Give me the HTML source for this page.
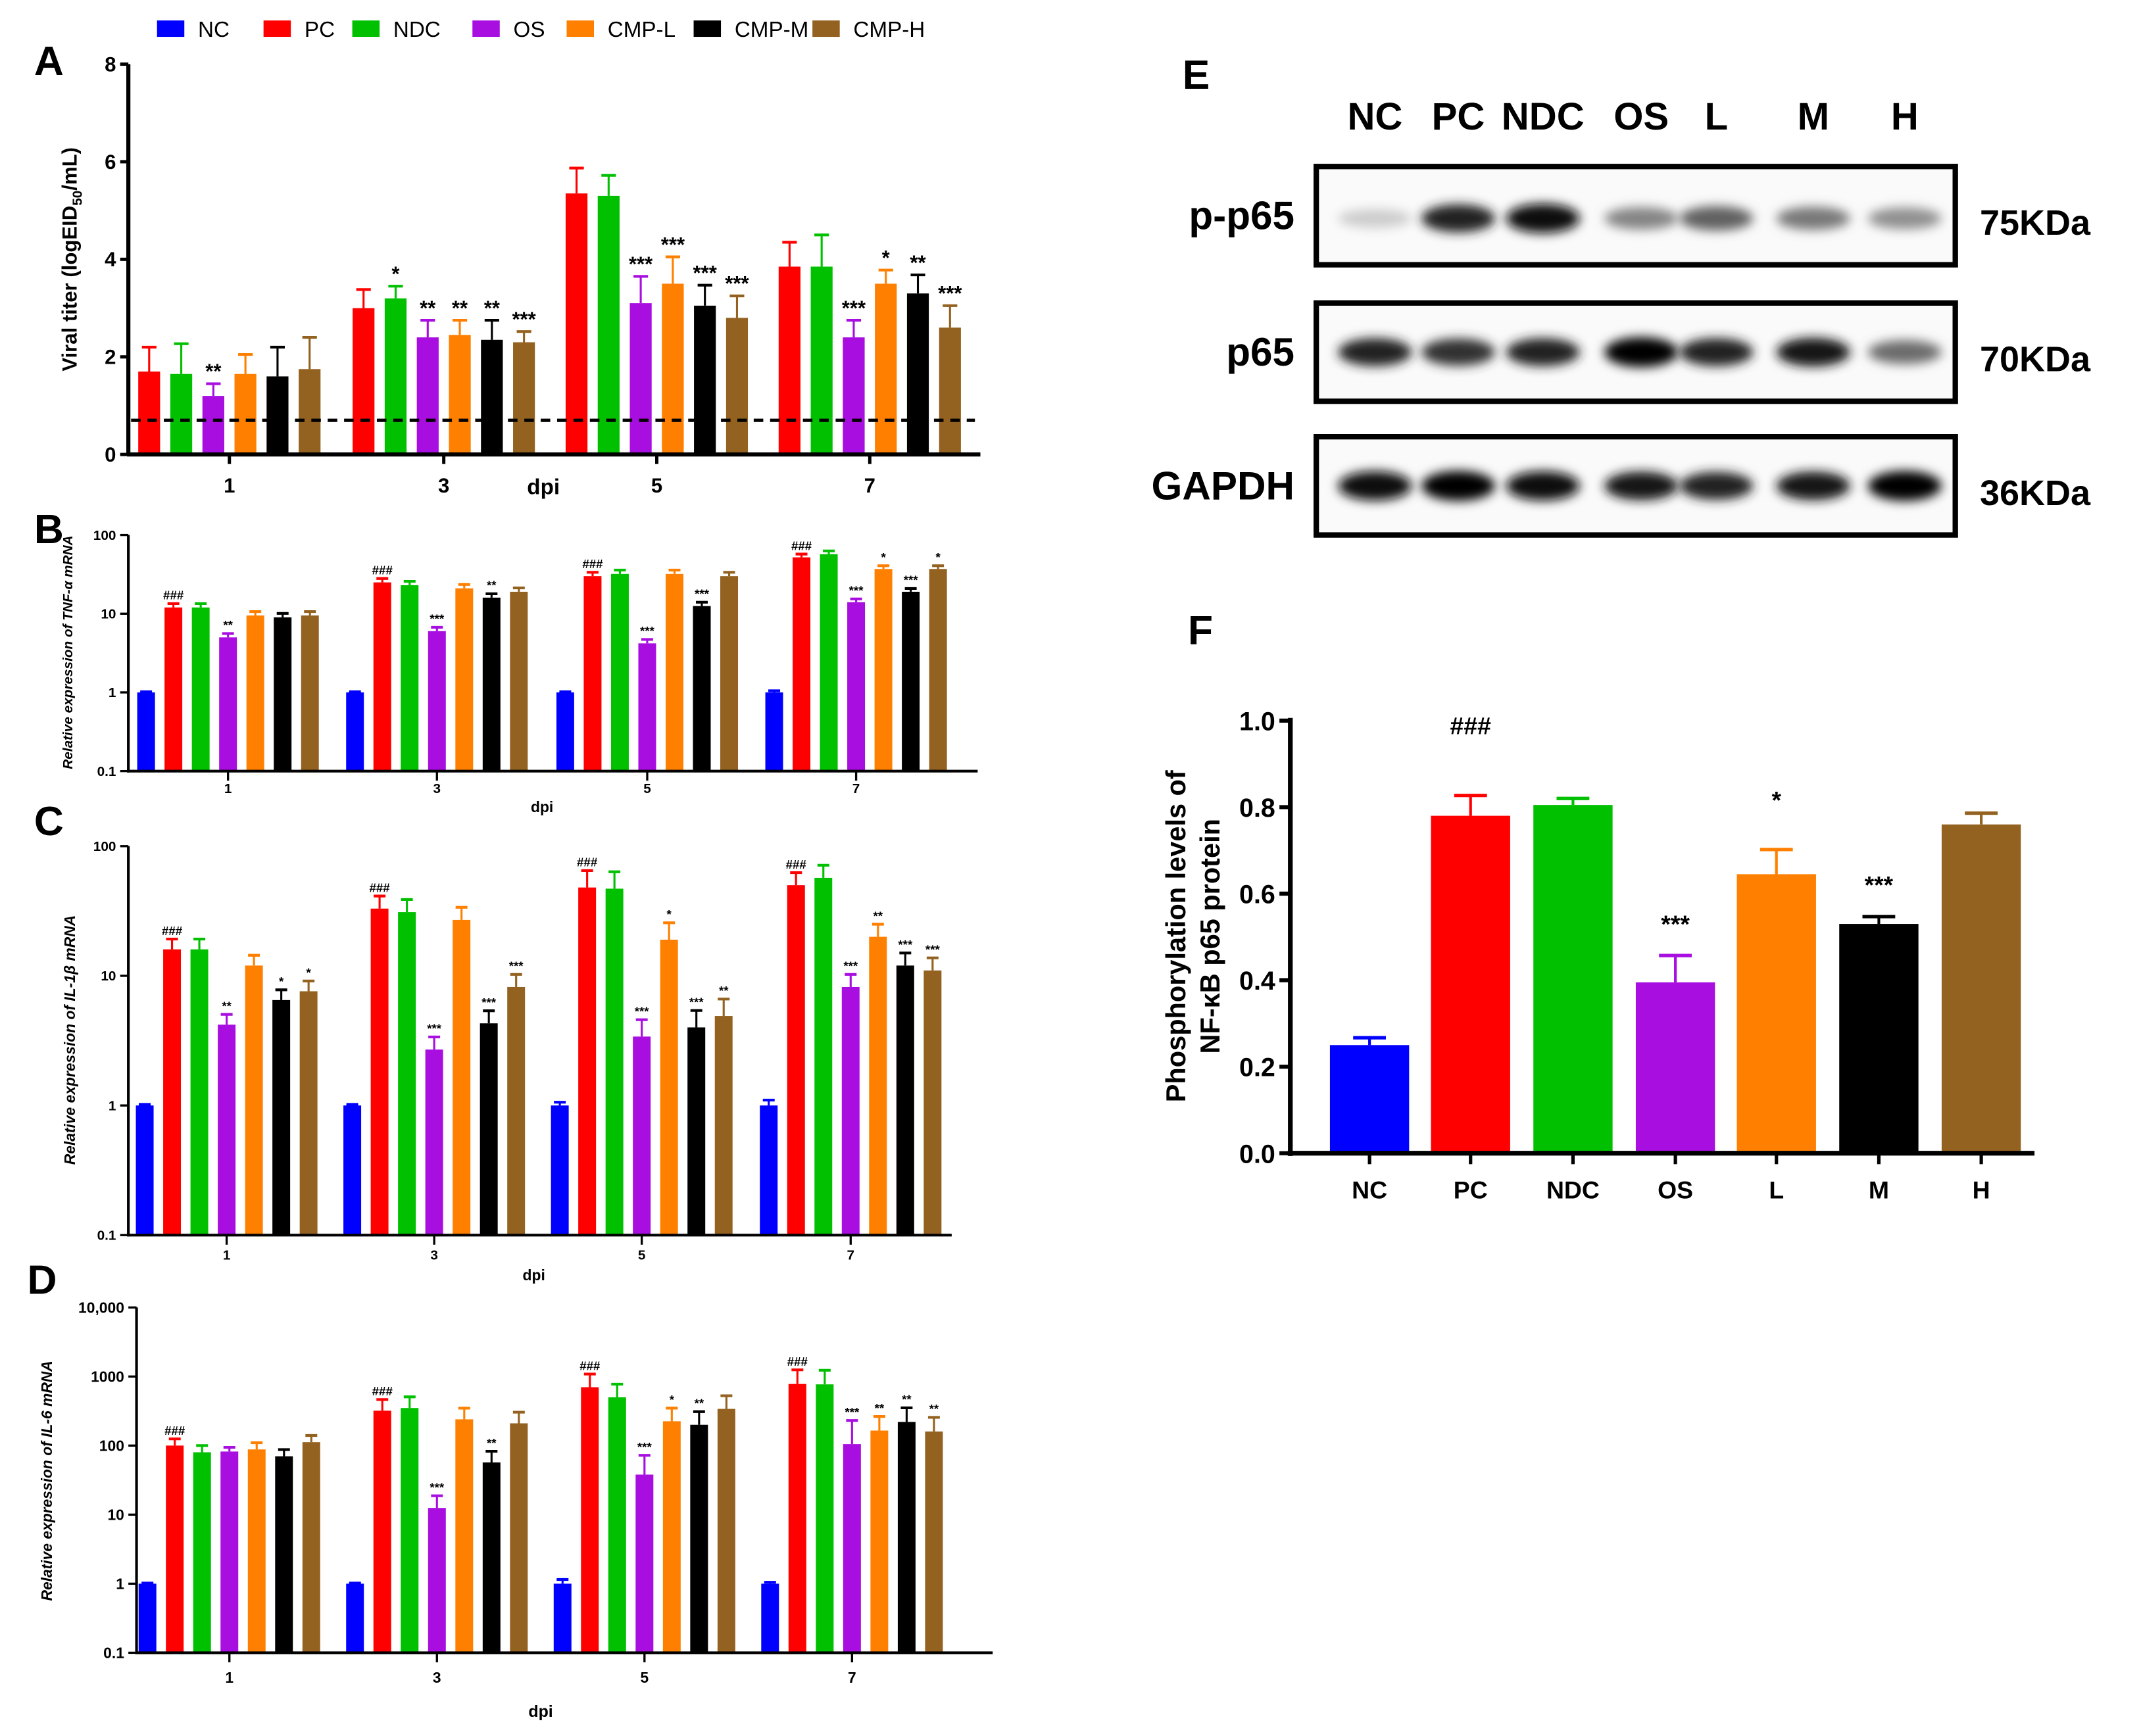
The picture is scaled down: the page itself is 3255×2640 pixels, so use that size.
<!DOCTYPE html>
<html><head><meta charset="utf-8">
<style>
html,body{margin:0;padding:0;background:#fff;}
svg{display:block;font-family:"Liberation Sans",Arial,sans-serif;}
</style></head>
<body>
<svg id="fig" width="3255" height="2640" viewBox="0 0 1568 1272" preserveAspectRatio="none" xmlns="http://www.w3.org/2000/svg">
<defs>
<filter id="blur" x="-50%" y="-100%" width="200%" height="300%"><feGaussianBlur stdDeviation="4"/></filter>
</defs>
</svg>
<script>
// ---------- data ----------
const groups = ["NC","PC","NDC","OS","CMP-L","CMP-M","CMP-H"];
const colors = ["#0000ff","#ff0000","#00c000","#a80ee0","#ff8000","#000000","#946220"];
const dpiLabels = ["1","3","5","7"];

// Panel A: viral titer (NC absent)
const aPC=[1.7,3.0,5.35,3.85], aNDC=[1.65,3.2,5.3,3.85], aOS=[1.2,2.4,3.1,2.4], aL=[1.65,2.45,3.5,3.5], aM=[1.6,2.35,3.05,3.3], aH=[1.75,2.3,2.8,2.6];
const aErrPC=[0.5,0.38,0.52,0.5], aErrNDC=[0.62,0.25,0.42,0.65], aErrOS=[0.25,0.35,0.55,0.35], aErrL=[0.4,0.3,0.55,0.28], aErrM=[0.6,0.4,0.42,0.38], aErrH=[0.65,0.22,0.45,0.45];
const aSigNDC=["","*","",""], aSigOS=["**","**","***","***"], aSigL=["","**","***","*"], aSigM=["","**","***","**"], aSigH=["","***","***","***"];
const aTicks=[0,2,4,6,8];
const detectionLimit=0.7;

// Panel B: TNF-a
const bNC=[1,1,1,1], bPC=[12,25,30,52], bNDC=[12,23,32,57], bOS=[5,6,4.2,14], bL=[9.5,21,32,37], bM=[9,16,12.5,19], bH=[9.5,19,30,37];
const bErrF=[1.12,1.12,1.12,1.1];
const bSigPC=["###","###","###","###"], bSigOS=["**","***","***","***"], bSigL=["","","","*"], bSigM=["","**","***","***"], bSigH=["","","","*"];
const bTicks=[0.1,1,10,100];

// Panel C: IL-1b
const cNC=[1,1,1,1], cPC=[16,33,48,50], cNDC=[16,31,47,57], cOS=[4.2,2.7,3.4,8.2], cL=[12,27,19,20], cM=[6.5,4.3,4,12], cH=[7.6,8.2,4.9,11];
const cErrF=[1.2,1.25,1.35,1.25];
const cSigPC=["###","###","###","###"], cSigOS=["**","***","***","***"], cSigL=["","","*","**"], cSigM=["*","***","***","***"], cSigH=["*","***","**","***"];
const cTicks=[0.1,1,10,100];

// Panel D: IL-6
const dNC=[1,1,1,1], dPC=[100,320,700,780], dNDC=[80,350,500,770], dOS=[82,12.5,38,105], dL=[88,240,225,165], dM=[70,57,200,220], dH=[112,210,340,160];
const dErrF=[1.25,1.45,1.55,1.6];
const dSigPC=["###","###","###","###"], dSigOS=["","***","***","***"], dSigL=["","","*","**"], dSigM=["","**","**","**"], dSigH=["","","","**"];
const dTicks=[0.1,1,10,100,1000,10000];
const dTickLabels=["0.1","1","10","100","1000","10,000"];

// Panel F
const fLabels=["NC","PC","NDC","OS","L","M","H"];
const fVals=[0.25,0.78,0.805,0.395,0.645,0.53,0.76];
const fErr=[0.017,0.047,0.015,0.062,0.057,0.017,0.026];
const fSig=["","###","","***","*","***",""];
const fTicks=[0,0.2,0.4,0.6,0.8,1.0];

// Panel E blot intensities
const blotRows=["p-p65","p65","GAPDH"];
const blotKDa=["75KDa","70KDa","36KDa"];
const blotPP65=[0.15,0.85,0.95,0.45,0.6,0.5,0.4];
const blotP65=[0.85,0.8,0.85,1.0,0.85,0.9,0.55];
const blotGAPDH=[0.95,1.0,0.95,0.9,0.85,0.9,1.0];

// ---------- helpers ----------
const svg=document.getElementById('fig');
const NS='http://www.w3.org/2000/svg';
function el(tag,attrs,parent){const e=document.createElementNS(NS,tag);for(const k in attrs)e.setAttribute(k,attrs[k]);(parent||svg).appendChild(e);return e;}
function txt(s,attrs,parent){const e=el('text',attrs,parent);e.textContent=s;return e;}

// legend
const legX=[115,193,258,346,415,508,595];
groups.forEach((g,i)=>{
  const gg=el('g',{});
  
  
  el('rect',{x:legX[i],y:15,width:20,height:12,fill:colors[i]},gg);
  txt(g,{x:legX[i]+30,y:27,'font-size':16,fill:'#000'},gg);
});

function panelLetter(s,x,y){const t=txt(s,{x:x,y:y,'font-size':30,'font-weight':'bold'});}

// generic grouped bar chart
function grouped(cfg){
  const g=el('g',{});
  
  
  const yS=cfg.log?(v=>cfg.yBot-(Math.log10(v)-Math.log10(cfg.ticks[0]))/(Math.log10(cfg.ticks[cfg.ticks.length-1])-Math.log10(cfg.ticks[0]))*(cfg.yBot-cfg.yTop))
                 :(v=>cfg.yBot-(v-cfg.ticks[0])/(cfg.ticks[cfg.ticks.length-1]-cfg.ticks[0])*(cfg.yBot-cfg.yTop));
  const xS=(gi,si)=>cfg.groupX[gi]+(si-cfg.off)*cfg.step;
  cfg.series.forEach((s,si)=>{
    if(!s)return;
    s.vals.forEach((v,gi)=>{
      const cx=xS(gi,si), y=yS(v), w=cfg.bw;
      const b=el('rect',{x:cx-w/2,y:y,width:w,height:cfg.yBot-y,fill:colors[si]},g);
      
      
      let top;
      if(s.err){top=yS(v+s.err[gi]);}else{top=yS(v*s.errF[gi]);}
      el('line',{x1:cx,x2:cx,y1:y,y2:top,stroke:colors[si],'stroke-width':1.5},g);
      el('line',{x1:cx-w/3,x2:cx+w/3,y1:top,y2:top,stroke:colors[si],'stroke-width':2},g);
      if(s.sig&&s.sig[gi]){txt(s.sig[gi],{x:cx,y:top-cfg.sigGap,'text-anchor':'middle','font-size':cfg.sigSize,'font-weight':'bold'},g);}
    });
  });
  // axes
  el('line',{x1:cfg.x0,x2:cfg.x0,y1:cfg.yTop,y2:cfg.yBot+1,stroke:'#000','stroke-width':cfg.aw},g);
  el('line',{x1:cfg.x0-1,x2:cfg.x1,y1:cfg.yBot,y2:cfg.yBot,stroke:'#000','stroke-width':cfg.aw},g);
  cfg.ticks.forEach((t,i)=>{
    const y=yS(t);
    el('line',{x1:cfg.x0-6,x2:cfg.x0,y1:y,y2:y,stroke:'#000','stroke-width':cfg.aw*0.8},g);
    txt(cfg.tickLabels?cfg.tickLabels[i]:String(t),{x:cfg.x0-9,y:y+cfg.tf*0.35,'text-anchor':'end','font-size':cfg.tf,'font-weight':'bold'},g);
  });
  cfg.groupX.forEach((x,i)=>{
    el('line',{x1:x,x2:x,y1:cfg.yBot,y2:cfg.yBot+7,stroke:'#000','stroke-width':cfg.aw*0.8},g);
    txt(dpiLabels[i],{x:x,y:cfg.yBot+cfg.xl,'text-anchor':'middle','font-size':cfg.tf,'font-weight':'bold'},g);
  });
  txt('dpi',{x:cfg.dpiX,y:cfg.dpiY,'text-anchor':'middle','font-size':cfg.tf+1,'font-weight':'bold'},g);
  return {g,yS};
}

// Panel A
panelLetter('A',25,55);
const A=grouped({name:'panel-a-viral-titer',x0:94,x1:718,yTop:47,yBot:333,ticks:aTicks,log:false,groupX:[168,325,481,637],off:3.5,step:23.5,bw:16,aw:3,tf:15,xl:28,dpiX:398,dpiY:362,sigGap:4,sigSize:15,
 series:[null,{vals:aPC,err:aErrPC},{vals:aNDC,err:aErrNDC,sig:aSigNDC},{vals:aOS,err:aErrOS,sig:aSigOS},{vals:aL,err:aErrL,sig:aSigL},{vals:aM,err:aErrM,sig:aSigM},{vals:aH,err:aErrH,sig:aSigH}]});
const dl=el('line',{x1:96,x2:714,y1:A.yS(detectionLimit),y2:A.yS(detectionLimit),stroke:'#000','stroke-width':2.5,'stroke-dasharray':'7,5'});


const ya=txt('',{transform:'translate(56,190) rotate(-90)','text-anchor':'middle','font-size':15,'font-weight':'bold'});
ya.innerHTML='Viral titer (logEID<tspan font-size="10" dy="4">50</tspan><tspan dy="-4">/mL)</tspan>';


// Panel B
panelLetter('B',25,398);
grouped({name:'panel-b-tnf',x0:94,x1:716,yTop:392,yBot:565,ticks:bTicks,log:true,groupX:[167,320,474,627],off:3,step:20,bw:13,aw:2,tf:10,xl:16,dpiX:397,dpiY:595,sigGap:3,sigSize:9,
 series:[{vals:bNC,errF:[1.02,1.02,1.02,1.05]},{vals:bPC,errF:bErrF,sig:bSigPC},{vals:bNDC,errF:bErrF},{vals:bOS,errF:bErrF,sig:bSigOS},{vals:bL,errF:bErrF,sig:bSigL},{vals:bM,errF:bErrF,sig:bSigM},{vals:bH,errF:bErrF,sig:bSigH}]});
txt('Relative expression of TNF-α mRNA',{transform:'translate(53,478) rotate(-90)','text-anchor':'middle','font-size':10,'font-style':'italic','font-weight':'bold'});

// Panel C
panelLetter('C',25,612);
grouped({name:'panel-c-il1b',x0:94,x1:697,yTop:620,yBot:905,ticks:cTicks,log:true,groupX:[166,318,470,623],off:3,step:20,bw:13,aw:2,tf:10,xl:18,dpiX:391,dpiY:938,sigGap:3,sigSize:9,
 series:[{vals:cNC,errF:[1.02,1.02,1.06,1.1]},{vals:cPC,errF:cErrF,sig:cSigPC},{vals:cNDC,errF:cErrF},{vals:cOS,errF:cErrF,sig:cSigOS},{vals:cL,errF:cErrF,sig:cSigL},{vals:cM,errF:cErrF,sig:cSigM},{vals:cH,errF:cErrF,sig:cSigH}]});
txt('Relative  expression of IL-1β mRNA',{transform:'translate(55,762) rotate(-90)','text-anchor':'middle','font-size':11,'font-style':'italic','font-weight':'bold'});

// Panel D
panelLetter('D',20,948);
grouped({name:'panel-d-il6',x0:100,x1:727,yTop:958,yBot:1211,ticks:dTicks,tickLabels:dTickLabels,log:true,groupX:[168,320,472,624],off:3,step:20,bw:13,aw:2,tf:11,xl:22,dpiX:396,dpiY:1258,sigGap:3,sigSize:9,
 series:[{vals:dNC,errF:[1.02,1.02,1.15,1.05]},{vals:dPC,errF:dErrF,sig:dSigPC},{vals:dNDC,errF:dErrF},{vals:dOS,errF:[1.15,1.5,1.9,2.2],sig:dSigOS},{vals:dL,errF:dErrF,sig:dSigL},{vals:dM,errF:dErrF,sig:dSigM},{vals:dH,errF:dErrF,sig:dSigH}]});
txt('Relative  expression of IL-6 mRNA',{transform:'translate(38,1085) rotate(-90)','text-anchor':'middle','font-size':11,'font-style':'italic','font-weight':'bold'});

// Panel E: western blot
panelLetter('E',866,65);
const laneX=[1007,1068,1130,1202,1257,1328,1395];
fLabels.forEach((l,i)=>{const t=txt(l,{x:laneX[i],y:95,'text-anchor':'middle','font-size':28,'font-weight':'bold'});});
const blotData=[blotPP65,blotP65,blotGAPDH];
const boxY=[122,222,320], bandDy=[38,36,36];
blotRows.forEach((r,ri)=>{
  const g=el('g',{});
  
  
  el('rect',{x:964,y:boxY[ri],width:468,height:72,fill:'#fafafa',stroke:'#000','stroke-width':4},g);
  blotData[ri].forEach((v,i)=>{
    const gray=Math.round(240*(1-v));
    el('ellipse',{cx:laneX[i],cy:boxY[ri]+bandDy[ri],rx:27,ry:6+5*v,fill:`rgb(${gray},${gray},${gray})`,filter:'url(#blur)'},g);
  });
  txt(r,{x:948,y:boxY[ri]+46,'text-anchor':'end','font-size':29,'font-weight':'bold'},g);
  txt(blotKDa[ri],{x:1450,y:boxY[ri]+50,'font-size':26,'font-weight':'bold'},g);
});

// Panel F
panelLetter('F',870,472);
(function(){
  const g=el('g',{});
  
  
  const x0=945,yTop=528,yBot=845;
  const yS=v=>yBot-v*(yBot-yTop);
  const xC=[1003,1077,1152,1227,1301,1376,1451];
  fVals.forEach((v,i)=>{
    const b=el('rect',{x:xC[i]-29,y:yS(v),width:58,height:yBot-yS(v),fill:colors[i]},g);
    
    
    const top=yS(v+fErr[i]);
    el('line',{x1:xC[i],x2:xC[i],y1:yS(v),y2:top,stroke:colors[i],'stroke-width':2},g);
    el('line',{x1:xC[i]-12,x2:xC[i]+12,y1:top,y2:top,stroke:colors[i],'stroke-width':2.5},g);
    if(fSig[i])txt(fSig[i],{x:xC[i],y:top-(fSig[i]==='###'?45:(i===4?30:17)),'text-anchor':'middle','font-size':18,'font-weight':'bold'},g);
    el('line',{x1:xC[i],x2:xC[i],y1:yBot,y2:yBot+8,stroke:'#000','stroke-width':2.5},g);
    txt(fLabels[i],{x:xC[i],y:yBot+33,'text-anchor':'middle','font-size':18,'font-weight':'bold'},g);
  });
  el('line',{x1:x0,x2:x0,y1:yTop-2,y2:yBot+2,stroke:'#000','stroke-width':3.5},g);
  el('line',{x1:x0-2,x2:1490,y1:yBot,y2:yBot,stroke:'#000','stroke-width':3.5},g);
  fTicks.forEach(t=>{const y=yS(t);
    el('line',{x1:x0-8,x2:x0,y1:y,y2:y,stroke:'#000','stroke-width':3},g);
    txt(t.toFixed(1),{x:x0-11,y:y+7,'text-anchor':'end','font-size':19,'font-weight':'bold'},g);});
  txt('Phosphorylation levels of',{transform:'translate(868,686) rotate(-90)','text-anchor':'middle','font-size':20,'font-weight':'bold'},g);
  txt('NF-κB p65 protein',{transform:'translate(893,686) rotate(-90)','text-anchor':'middle','font-size':20,'font-weight':'bold'},g);
})();
</script>
</body></html>
